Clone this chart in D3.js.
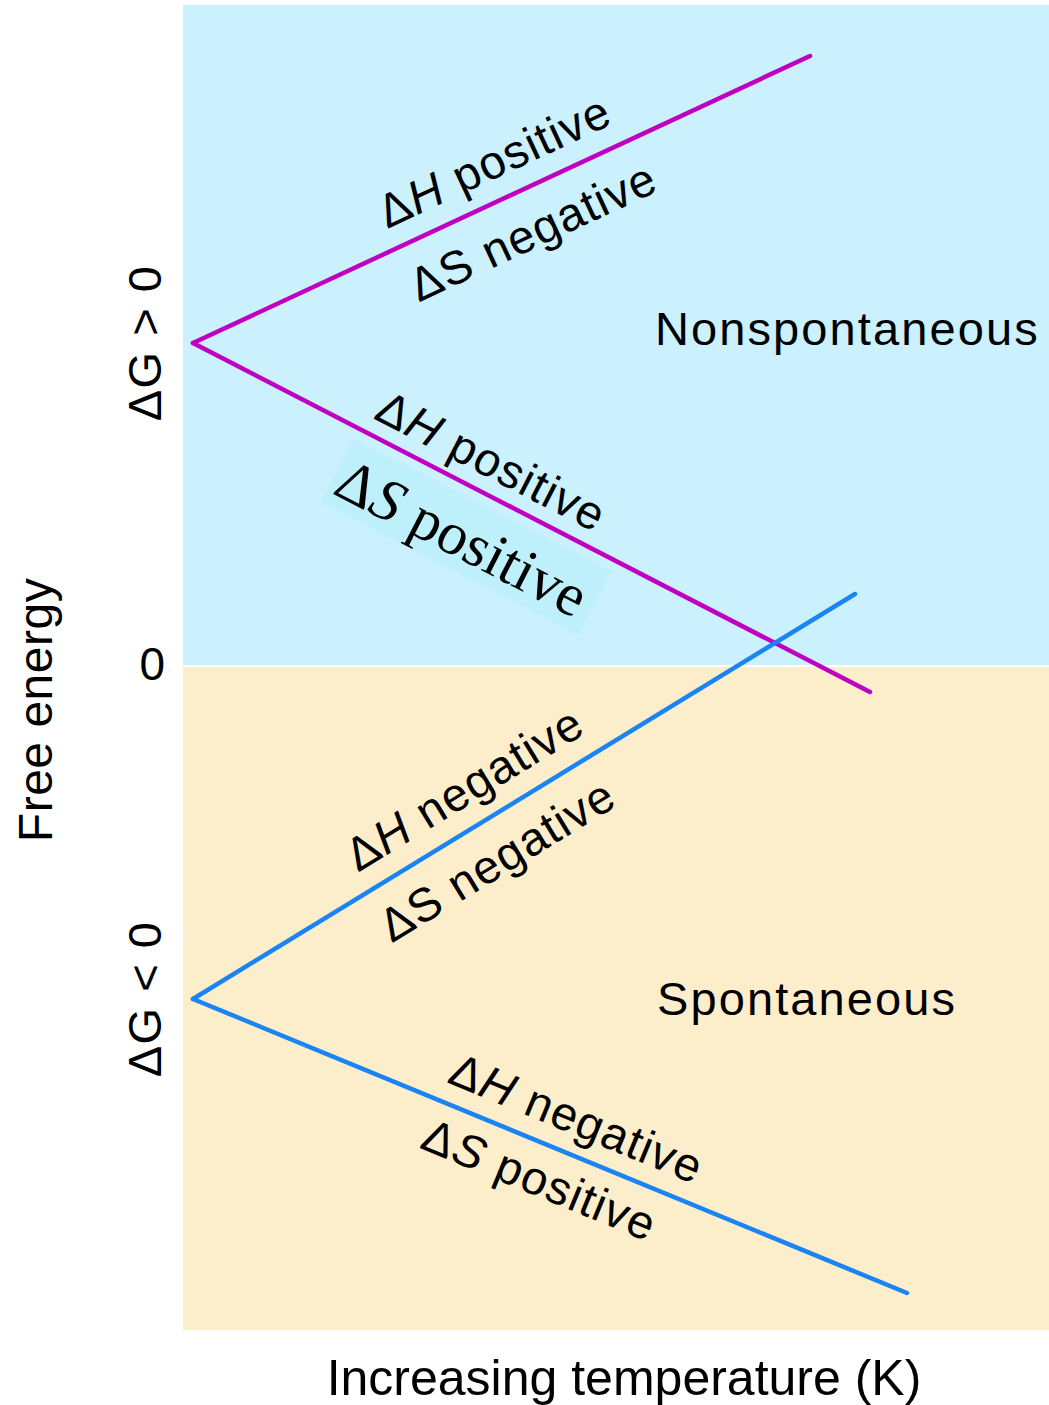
<!DOCTYPE html>
<html>
<head>
<meta charset="utf-8">
<script src="https://cdn.jsdelivr.net/npm/d3@7"></script>
<style>
  html, body { margin: 0; padding: 0; background: #fff; }
  svg { display: block; }
  text { font-family: "Liberation Sans", Arial, sans-serif; fill: #000; }
  .serif { font-family: "Liberation Serif", "Times New Roman", serif; }
</style>
</head>
<body>
<svg id="chart"></svg>
<script>
// ----- Data (arbitrary units: temperature T, free energy G) -----
const zones = ["Nonspontaneous", "Spontaneous"];
const zoneRanges = [[0, 6.6], [-6.65, 0]];
const zoneLabelAt = [[4.62, 3.2], [4.64, -3.5]];

const lineNames = ["posNeg", "posPos", "negNeg", "negPos"];
const lineStartT = [0, 0, 0, 0];
const lineStartG = [3.22, 3.22, -3.34, -3.34];
const lineEndT = [6.17, 6.77, 6.62, 7.14];
const lineEndG = [6.09, -0.27, 0.71, -6.28];

// labels: line index, T at which the label is centred, above/below, text parts
const labelLine = [0, 0, 1, 1, 2, 2, 3, 3];
const labelT = [3.17, 3.22, 2.84, 2.92, 2.91, 2.83, 3.70, 3.60];
const labelSide = [-1, 1, -1, 1, -1, 1, -1, 1];
const labelSym = ["H", "S", "H", "S", "H", "S", "H", "S"];
const labelWord = ["positive", "negative", "positive", "positive", "negative", "negative", "negative", "positive"];

const yTicks = [0];
const yLabels = ["\u0394G > 0", "\u0394G < 0"];
const yLabelAt = [3.22, -3.34];

// ----- Layout -----
const W = 1049, H = 1405;
const svg = d3.select("#chart").attr("width", W).attr("height", H);

const x = d3.scaleLinear().domain([-0.1, 8.56]).range([183, 1049]);
const y = d3.scaleLinear().domain([-6.65, 6.6]).range([1330, 5]);

const zoneColors = ["#cbf0fe", "#fdeecb"];
const lineColors = ["#c000c0", "#c000c0", "#1a84f2", "#1a84f2"];

// ----- Background zones -----
svg.selectAll("rect.zone")
  .data(zones)
  .enter().append("rect")
  .attr("class", "zone")
  .attr("x", x(-0.1))
  .attr("width", x(8.56) - x(-0.1))
  .attr("y", (d, i) => y(zoneRanges[i][1]) + (i === 1 ? 2 : 0))
  .attr("height", (d, i) => y(zoneRanges[i][0]) - y(zoneRanges[i][1]) - (i === 1 ? 2 : 0))
  .attr("fill", (d, i) => zoneColors[i]);

svg.selectAll("text.zone-label")
  .data(zones)
  .enter().append("text")
  .attr("class", "zone-label")
  .attr("x", (d, i) => x(zoneLabelAt[i][0]))
  .attr("y", (d, i) => y(zoneLabelAt[i][1]))
  .attr("font-size", 47)
  .attr("letter-spacing", 2.1)
  .text(d => d);

// ----- Helpers -----
function lineAngle(i) {
  const dx = x(lineEndT[i]) - x(lineStartT[i]);
  const dy = y(lineEndG[i]) - y(lineStartG[i]);
  return Math.atan2(dy, dx);
}
function pointOn(i, t) {
  const f = (t - lineStartT[i]) / (lineEndT[i] - lineStartT[i]);
  const g = lineStartG[i] + f * (lineEndG[i] - lineStartG[i]);
  return [x(t), y(g)];
}

// ----- Lines -----
const line = d3.line().x(d => x(d[0])).y(d => y(d[1]));
svg.selectAll("path.series")
  .data(lineNames)
  .enter().append("path")
  .attr("class", "series")
  .attr("fill", "none")
  .attr("stroke", (d, i) => lineColors[i])
  .attr("stroke-width", 4.5)
  .attr("stroke-linecap", "round")
  .attr("d", (d, i) => line([[lineStartT[i], lineStartG[i]], [lineEndT[i], lineEndG[i]]]));

// ----- Line labels -----
const offsets = [38, 42, 32, 49, 38, 40, 36, 35];
const labels = svg.selectAll("g.lbl")
  .data(labelLine)
  .enter().append("g")
  .attr("class", "lbl")
  .attr("transform", (li, k) => {
    const a = lineAngle(li);
    const [px, py] = pointOn(li, labelT[k]);
    const off = labelSide[k] * offsets[k];
    const cx = px - Math.sin(a) * off, cy = py + Math.cos(a) * off;
    return `translate(${cx},${cy}) rotate(${a * 180 / Math.PI})`;
  });

labels.each(function(li, k) {
  const g = d3.select(this);
  const serif = k === 3;
  if (serif) {
    g.append("rect")
      .attr("x", -142).attr("y", -38)
      .attr("width", 290).attr("height", 72)
      .attr("fill", "#bdf0fb");
  }
  const t = g.append("text")
    .attr("text-anchor", "middle")
    .attr("dy", "0.35em")
    .attr("font-size", serif ? 60 : 47)
    .attr("letter-spacing", serif ? 0 : 1.2)
    .classed("serif", serif);
  t.append("tspan").text("\u0394");
  t.append("tspan")
    .attr("font-style", (labelSym[k] === "H" || k === 3 || k === 7) ? "italic" : "normal")
    .text(labelSym[k]);
  t.append("tspan").text(" " + labelWord[k]);
});

// ----- Y axis -----
const yAxis = svg.append("g")
  .attr("transform", `translate(${x(-0.1) - 18},0)`)
  .call(d3.axisLeft(y).tickValues(yTicks).tickSize(0).tickPadding(0).tickFormat(d3.format("d")));
yAxis.select(".domain").remove();
yAxis.selectAll("text")
  .attr("font-family", "Liberation Sans, Arial, sans-serif")
  .attr("font-size", 46)
  .attr("fill", "#000");

svg.selectAll("text.ylab")
  .data(yLabels)
  .enter().append("text")
  .attr("class", "ylab")
  .attr("text-anchor", "middle")
  .attr("font-size", 47)
  .attr("letter-spacing", 1.5)
  .attr("transform", (d, i) => `translate(${x(-0.1) - 22},${y(yLabelAt[i])}) rotate(-90)`)
  .text(d => d);

svg.append("text")
  .attr("text-anchor", "middle")
  .attr("font-size", 48)
  .attr("letter-spacing", 0.5)
  .attr("transform", `translate(52,${y(-0.45)}) rotate(-90)`)
  .text("Free energy");

// ----- X axis label -----
svg.append("text")
  .attr("text-anchor", "middle")
  .attr("x", 624)
  .attr("y", 1395)
  .attr("font-size", 50)
  .text("Increasing temperature (K)");
</script>
</body>
</html>
